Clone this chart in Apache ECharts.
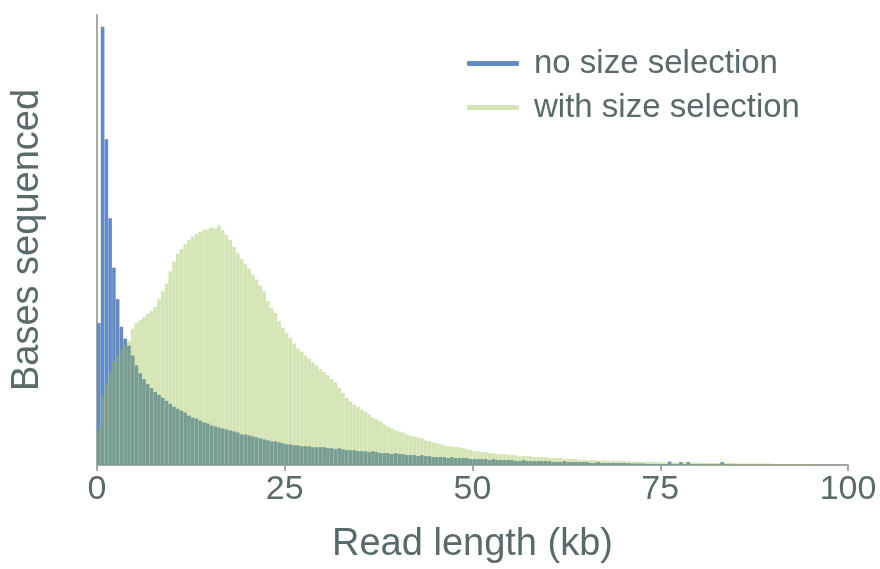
<!DOCTYPE html>
<html>
<head>
<meta charset="utf-8">
<script src="https://cdn.jsdelivr.net/npm/echarts@6/dist/echarts.min.js"></script>
<style>
html,body{margin:0;padding:0;background:#fff;}
#chart{width:880px;height:569px;}
</style>
</head>
<body>
<div id="chart"></div>
<script>
// Histogram bins: 0.5 kb wide, 0 to 100 kb
var BIN_WIDTH = 0.5;
var BIN_COUNT = 200;
var xTicks = [0, 25, 50, 75, 100];
var seriesNames = ['no size selection', 'with size selection'];

// Bases sequenced (arbitrary units) per 0.5 kb bin
var noSizeSelection = [
 144,444,330,250,200,168,140,128,121,111,
 101,93,87,82,78,74,71,68,65,62,
 59,57,55,53,50,48,47,45,43,42,
 40,39,38,37,36,35,34,33,31,31,
 30,29,28,27,26,25,24,24,23,22,
 21,21,20,20,19,19,19,18,18,18,
 18,17,17,16,17,16,15,15,15,14,
 14,14,13,14,13,12,12,12,11,12,
 11,11,10,10,10,9,10,9,9,8,
 8,8,8,7,8,7,7,7,7,6,
 6,6,6,6,5,6,5,5,5,5,
 5,4,4,5,4,4,4,4,4,4,
 4,3,3,3,4,3,3,3,3,3,
 3,2,2,3,2,2,2,2,2,2,
 2,2,1.5,1.5,1.5,1.5,1,1,1,1,
 1,1,3.5,1,0.5,3,0.5,3,0.5,0.5,
 0.5,0.5,0.5,0.5,0.5,0.5,3,0.5,0.5,0.3,
 0.3,0.3,0.3,0.3,0.3,0.3,0.3,0.3,0.3,0.3,
 0.3,0.3,0.3,0.3,0.3,0.3,0.3,0.3,0.3,0.3,
 0.3,0.3,0.3,0.3,0.3,0.3,0.3,0.3,0.3,0.3
];
var withSizeSelection = [
 35,71,83,93,105,111,117,122,126,138,
 144,147,150,153,156,160,168,176,184,196,
 206,214,219,224,228,231,234,236,238,239,
 241,240,243,238,233,228,221,215,209,204,
 199,193,188,182,176,166,159,154,146,139,
 134,129,123,118,115,111,108,104,101,97,
 94,91,87,84,78,73,68,64,61,59,
 56,54,51,48,46,44,41,39,37,35,
 34,33,31,30,29,28,27,25,24,23,
 22,21,20,19,19,18,18,17,16,15,
 14,14,13,13,12,12,11,11,11,10,
 10,10,9,9,9,9,8,8,8,8,
 7,7,7,7,6,6,6,6,5,5,
 5,5,5,4.5,4.5,4.5,4,4,4,4,
 4,3.5,3.5,3.5,3.5,3,3,3,3,3,
 2.5,2.5,2.5,2.5,2.5,2.5,2.5,2.5,2.5,2.5,
 2,2,2,2,2,2,2,2,2,2,
 1.5,1.5,1.5,1.5,1.5,1.5,1.5,1.5,1.5,1.5,
 1,1,1,1,1,1,1,1,1,1,
 0.6,0.6,0.6,0.6,0.6,0.6,0.6,0.6,0.6,0.6
];

var binLabels = [];
for (var i = 0; i < BIN_COUNT; i++) {
  binLabels.push((i * BIN_WIDTH) + '-' + ((i + 1) * BIN_WIDTH));
}

var textColor = '#5a6a6a';
var axisColor = '#a8a8a8';
var font = 'Liberation Sans, Arial, sans-serif';

var chart = echarts.init(document.getElementById('chart'), null, {renderer: 'canvas'});
chart.setOption({
  animation: false,
  backgroundColor: '#ffffff',
  grid: {left: 97, right: 32, top: 15, bottom: 98, containLabel: false},
  legend: {
    orient: 'vertical',
    left: 462,
    top: 42,
    itemWidth: 52,
    itemHeight: 5,
    itemGap: 11,
    icon: 'roundRect',
    data: seriesNames,
    textStyle: {fontSize: 33, color: textColor, fontFamily: font, padding: [0, 0, 0, 10]}
  },
  xAxis: [
    {
      type: 'category',
      data: binLabels,
      show: false,
      boundaryGap: true
    },
    {
      type: 'value',
      min: xTicks[0],
      max: xTicks[xTicks.length - 1],
      interval: 25,
      position: 'bottom',
      name: 'Read length (kb)',
      nameLocation: 'middle',
      nameGap: 61,
      nameTextStyle: {fontSize: 38, color: textColor, fontFamily: font},
      axisLine: {show: true, lineStyle: {color: axisColor, width: 2}},
      axisTick: {show: true, length: 6, lineStyle: {color: axisColor, width: 2}},
      axisLabel: {fontSize: 34, color: textColor, fontFamily: font, margin: 8},
      splitLine: {show: false}
    }
  ],
  yAxis: {
    type: 'value',
    min: 0,
    max: 456,
    name: 'Bases sequenced',
    nameLocation: 'middle',
    nameGap: 50,
    nameTextStyle: {fontSize: 38, color: textColor, fontFamily: font},
    axisLine: {show: true, lineStyle: {color: axisColor, width: 2}},
    axisTick: {show: false},
    axisLabel: {show: false},
    splitLine: {show: false}
  },
  series: [
    {
      name: seriesNames[0],
      type: 'bar',
      xAxisIndex: 0,
      data: noSizeSelection,
      barGap: '-100%',
      barCategoryGap: '5%',
      itemStyle: {color: '#658bc4'},
      emphasis: {disabled: true}
    },
    {
      name: seriesNames[1],
      type: 'bar',
      xAxisIndex: 0,
      data: withSizeSelection,
      barGap: '-100%',
      barCategoryGap: '5%',
      itemStyle: {color: 'rgba(148,188,68,0.4)'},
      emphasis: {disabled: true}
    }
  ]
});
</script>
</body>
</html>
